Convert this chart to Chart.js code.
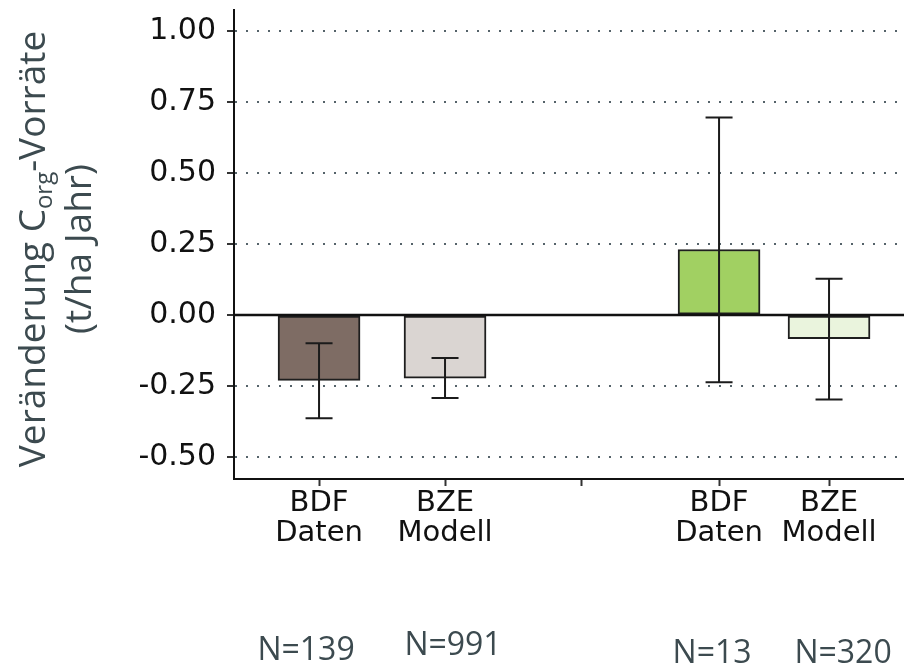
<!DOCTYPE html>
<html>
<head>
<meta charset="utf-8">
<script src="https://cdn.jsdelivr.net/npm/chart.js@4/dist/chart.umd.min.js"></script>
<style>
  body { margin: 0; background: #fff; }
</style>
</head>
<body>
<canvas id="chart" width="904" height="666"></canvas>
<script>
const categories = [['BDF', 'Daten'], ['BZE', 'Modell'], ['BDF', 'Daten'], ['BZE', 'Modell']];
const xPos = [1, 2, 4.175, 5.048];      // where each bar sits on the x axis
const groupBreak = 3.087;               // tick between the two groups
const means = [-0.230, -0.222, 0.231, -0.083];
const errLow = [-0.363, -0.292, -0.236, -0.297];
const errHigh = [-0.099, -0.151, 0.696, 0.128];
const nLabels = ['N=139', 'N=991', 'N=13', 'N=320'];
const yTicks = [-0.5, -0.25, 0, 0.25, 0.5, 0.75, 1.0];
const barColors = ['#7e6c64', '#dad5d2', '#a1d062', '#eaf4dd'];

const textColor = '#3c4a4f';

const errorBars = {
  id: 'errorBars',
  afterDatasetsDraw(chart) {
    const { ctx, chartArea, scales: { x, y } } = chart;
    ctx.save();
    // solid zero line
    ctx.strokeStyle = '#111';
    ctx.lineWidth = 2.5;
    ctx.beginPath();
    ctx.moveTo(chartArea.left, y.getPixelForValue(0));
    ctx.lineTo(chartArea.right, y.getPixelForValue(0));
    ctx.stroke();
    // whiskers
    ctx.strokeStyle = '#1b1b1b';
    ctx.lineWidth = 2;
    xPos.forEach((v, i) => {
      const px = x.getPixelForValue(v);
      const lo = y.getPixelForValue(errLow[i]);
      const hi = y.getPixelForValue(errHigh[i]);
      ctx.beginPath();
      ctx.moveTo(px, lo); ctx.lineTo(px, hi);
      ctx.moveTo(px - 13.5, lo); ctx.lineTo(px + 13.5, lo);
      ctx.moveTo(px - 13.5, hi); ctx.lineTo(px + 13.5, hi);
      ctx.stroke();
    });
    ctx.restore();
  }
};

const annotations = {
  id: 'annotations',
  afterDraw(chart) {
    const { ctx, scales: { x } } = chart;
    ctx.save();
    ctx.fillStyle = textColor;

    // y title with subscript
    const big = '37px "Open Sans"', small = '24px "Open Sans"';
    const parts = [['Veränderung C', big, 0], ['org', small, 7], ['-Vorräte', big, 0]];
    let total = 0;
    parts.forEach(p => { ctx.font = p[1]; total += ctx.measureText(p[0]).width; });
    ctx.translate(45, 249);
    ctx.rotate(-Math.PI / 2);
    ctx.textBaseline = 'alphabetic';
    ctx.textAlign = 'left';
    let cx = -total / 2;
    parts.forEach(p => {
      ctx.font = p[1];
      ctx.fillText(p[0], cx, p[2]);
      cx += ctx.measureText(p[0]).width;
    });
    ctx.font = big;
    ctx.textAlign = 'center';
    ctx.fillText('(t/ha Jahr)', 0, 46);
    ctx.setTransform(1, 0, 0, 1, 0, 0);

    // sample sizes below the axis
    const dx = [-13, 8, -7, 14];
    const base = [660, 655, 663, 663];
    ctx.font = '32px "Open Sans"';
    ctx.textAlign = 'center';
    nLabels.forEach((t, i) => {
      ctx.fillText(t, x.getPixelForValue(xPos[i]) + dx[i], base[i]);
    });
    ctx.restore();
  }
};

new Chart(document.getElementById('chart'), {
  type: 'bar',
  data: {
    datasets: [{
      data: xPos.map((v, i) => ({ x: v, y: means[i] })),
      backgroundColor: barColors,
      borderColor: '#1e1e1e',
      borderWidth: 2,
      borderSkipped: false,
      barThickness: 82
    }]
  },
  options: {
    responsive: false,
    animation: false,
    devicePixelRatio: 1,
    layout: { padding: { left: 110, top: 10, right: 0, bottom: 0 } },
    plugins: { legend: { display: false }, tooltip: { enabled: false } },
    scales: {
      x: {
        type: 'linear',
        min: 0.325,
        max: 5.643,
        offset: false,
        afterBuildTicks: s => {
          s.ticks = [...xPos, groupBreak].sort((a, b) => a - b).map(v => ({ value: v }));
        },
        afterFit: s => { s.height = 187; s.paddingLeft = 0; s.paddingRight = 0; },
        grid: { offset: false, drawOnChartArea: false, tickLength: 7, tickColor: '#333', tickWidth: 2 },
        border: { color: '#111', width: 2 },
        ticks: {
          autoSkip: false,
          maxRotation: 0,
          padding: 3,
          color: '#111',
          font: { family: 'DejaVu Sans', size: 29, lineHeight: 1.02 },
          callback: v => {
            const i = xPos.findIndex(p => Math.abs(p - v) < 1e-6);
            return i >= 0 ? categories[i] : '';
          }
        }
      },
      y: {
        min: -0.577,
        max: 1.074,
        afterBuildTicks: s => { s.ticks = yTicks.map(v => ({ value: v })); },
        afterFit: s => { s.width = 124; s.paddingTop = 0; s.paddingBottom = 0; },
        grid: { color: '#55636a', lineWidth: 2, tickLength: 7, tickColor: '#333', tickWidth: 2 },
        border: { color: '#111', width: 2, dash: [2, 9] },
        ticks: {
          padding: 11,
          color: '#111',
          font: { family: 'DejaVu Sans', size: 30 },
          callback: v => v.toFixed(2)
        }
      }
    }
  },
  plugins: [errorBars, annotations]
});
</script>
</body>
</html>
